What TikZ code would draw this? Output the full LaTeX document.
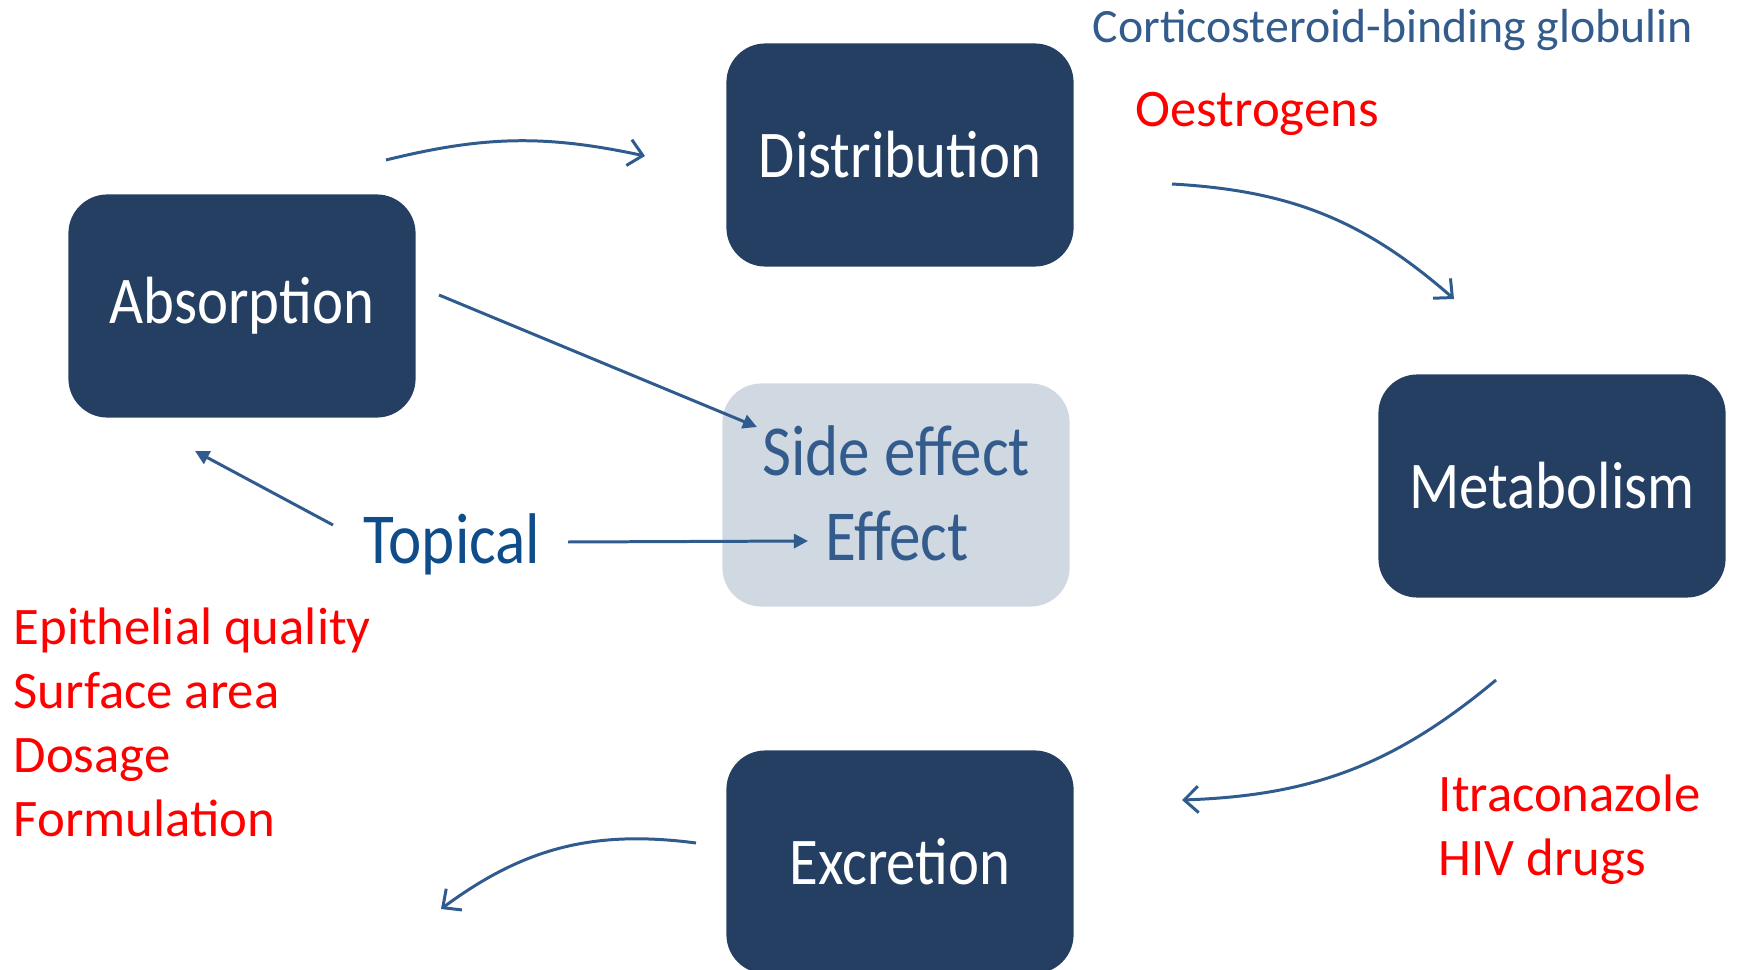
\documentclass[tikz,border=0pt]{standalone}
\usepackage{fontspec}
\setmainfont{Carlito}
\newfontfamily\boxfont[FakeStretch=0.88]{Carlito}
\usepackage{xcolor}
\usetikzlibrary{arrows.meta,positioning}
\definecolor{navy}{HTML}{243F61}
\definecolor{paleblue}{HTML}{D0D9E2}
\definecolor{linkblue}{HTML}{2F5B8E}
\definecolor{slateblue}{HTML}{335C8D}
\definecolor{topblue}{HTML}{0F4C8A}

\begin{document}
\begin{tikzpicture}[x=0.01cm,y=-0.01cm]
  \tikzset{stage/.style = {shape=rectangle,rounded corners=0.39cm,fill=navy,text=white,minimum width=3.47cm,minimum height=2.23cm,font=\boxfont\fontsize{19}{23}\selectfont}}
  \tikzset{effectbox/.style = {shape=rectangle,rounded corners=0.39cm,fill=paleblue,minimum width=3.47cm,minimum height=2.23cm}}
  \tikzset{bigtext/.style = {font=\boxfont\fontsize{20.4}{24}\selectfont,inner sep=0pt}}
  \tikzset{note/.style = {font=\fontsize{15}{18.2}\selectfont,text=red,align=left,inner sep=0pt}}
  \tikzset{%
  tipO/.tip={Straight Barb[length=4pt,width=7.5pt]},
  tipF/.tip={Triangle[length=4pt,width=4pt]},
  }
  \tikzset{flow/.style = {-tipO,draw=linkblue,line width=0.85pt}}
  \tikzset{hit/.style = {-tipF,draw=linkblue,line width=0.85pt}}

  \useasboundingbox (0,0) rectangle (1739,970);

	\node[stage] (A) at (242,306) {Absorption};
	\node[stage] (D) at (900,155) {Distribution};
	\node[stage] (M) at (1552,486) {Metabolism};
	\node[stage] (E) at (900,862) {Excretion};
	\node[effectbox] (SE) at (896,495) {};

	\node[bigtext,text=slateblue] (side) at (896,451) {Side effect};
	\node[bigtext,text=slateblue] (eff) at (897,536) {Effect};
	\node[bigtext,text=topblue] (T) at (452,544) {Topical};

	\node[font=\fontsize{13.6}{16}\selectfont,text=slateblue,anchor=west,inner sep=0pt] (CBG) at (1092,30) {Corticosteroid-binding globulin};
	\node[note,anchor=west] (oes) at (1135,114) {Oestrogens};
	\node[note,anchor=west] (absnote) at (13,722) {Epithelial quality\\Surface area\\Dosage\\Formulation};
	\node[note,anchor=west] (metnote) at (1438,830) {Itraconazole\\HIV drugs};

	\coordinate (a1) at (386,160);
	\coordinate (d1) at (645,156);
	\coordinate (d2) at (1172,184);
	\coordinate (m1) at (1454,299);
	\coordinate (m2) at (1496,680);
	\coordinate (e1) at (1182,800);
	\coordinate (e2) at (696,843);
	\coordinate (out) at (441,909);
	\coordinate (a2) at (439,295);
	\coordinate (s1) at (757,427);
	\coordinate (t1) at (333,525);
	\coordinate (a3) at (195,451);
	\coordinate (t2) at (568,542);
	\coordinate (s2) at (808,541);

	\draw[flow] (a1) to[bend left=13] (d1);
	\draw[flow] (d2) to[bend left=19] (m1);
	\draw[flow] (m2) to[bend left=19] (e1);
	\draw[flow] (e2) to[bend right=22] (out);

    \foreach \from/\to in {a2/s1, t1/a3, t2/s2}
    \draw[hit] (\from) -- (\to);

\end{tikzpicture}
\end{document}
